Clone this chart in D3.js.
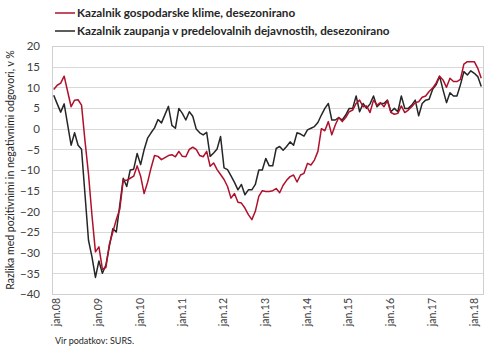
<!DOCTYPE html>
<html>
<head>
<meta charset="utf-8">
<script src="https://cdn.jsdelivr.net/npm/d3@7"></script>
<style>
  html, body { margin: 0; padding: 0; background: #fff; }
  svg { display: block; font-family: Lato, "Open Sans", sans-serif; }
</style>
</head>
<body>
<div class="container"></div>
<script>
// leta in meseci (jan.08 - apr.18)
const years = [2008, 2009, 2010, 2011, 2012, 2013, 2014, 2015, 2016, 2017, 2018];
const monthsInLastYear = 4;
const tickLabels = ["jan.08", "jan.09", "jan.10", "jan.11", "jan.12", "jan.13", "jan.14", "jan.15", "jan.16", "jan.17", "jan.18"];
const yTicks = [-40, -35, -30, -25, -20, -15, -10, -5, 0, 5, 10, 15, 20];

// Kazalnik gospodarske klime, desezonirano
const gospodarskaKlima = [
  9.5, 10.5, 11, 12.7, 9, 5.3, 6.9, 7, 5.7, -3, -11, -21,
  -29.8, -28.6, -34, -33.6, -28, -25, -22, -19.5, -12.5, -12.5, -12, -11.5,
  -9, -11.5, -15.7, -13, -9.5, -6.5, -6.7, -7.5, -7, -6.5, -6.3, -6.8,
  -5.5, -6.7, -6.8, -5, -4.5, -5, -6.5, -6.8, -5.5, -9.1, -8.3, -9.9,
  -11.1, -12.3, -14, -16.8, -15.7, -17.8, -18, -19.2, -20.8, -22, -20, -16.4,
  -15, -15.2, -15.2, -15, -14.5, -15.5, -13.7, -12.5, -11.6, -11.2, -12.9, -11.2,
  -10.8, -8.4, -8.8, -7.6, -5.5, 0, -0.5, 1.7, -1.5, 0.9, 2.7, 1.7,
  2.7, 4.1, 4.5, 6.1, 6.9, 5.3, 5.5, 3.9, 6.9, 5.7, 6.3, 5.3,
  6.8, 3.9, 3.5, 3.7, 5.5, 3.9, 4.5, 5.3, 6.3, 6.5, 7.6, 7.9,
  9, 9.8, 11, 12.7, 11.8, 10, 12.2, 11.4, 11.4, 11.9, 15.6, 16.2,
  16.2, 16.2, 14.6, 12.2
];

// Kazalnik zaupanja v predelovalnih dejavnostih, desezonirano
const zaupanjePredelovalne = [
  8.1, 6, 4, 6, 1, -4, -1, -4, -5, -16, -27, -31,
  -36, -32, -35, -33, -28.5, -24.2, -25, -18.5, -12, -14, -10, -9.8,
  -6, -8.7, -5.1, -2.3, -1, 0.2, 2.2, 1.4, 3.4, 5.4, 0.8, 0.1,
  4.9, 3.7, 2.1, 4.1, 3, -0.1, -1, -1.5, -0.9, -6.7, -5.9, -4.9,
  -1.9, -9.5, -9.9, -11.4, -13, -14.8, -13.5, -16, -14.8, -14.8, -13.5, -10,
  -10, -7.2, -9, -9, -4.8, -4.3, -5.2, -4.3, -3.2, -4, -1, -1.3,
  -1.8, -0.3, 0.1, 0.5, 1.5, 3.3, 4.9, 6.1, 2.1, 2.1, 2.7, 2.1,
  3.3, 4.9, 4.9, 7.9, 4.1, 6.1, 4.9, 6, 7.9, 5.3, 6.1, 6.1,
  6.9, 4.1, 4.9, 4.1, 7.9, 4.9, 4.9, 5.7, 6.9, 3.1, 6.1, 6.9,
  7.1, 9.5, 10.6, 12.7, 9.4, 6.3, 8.7, 7.9, 7.9, 10.6, 13.8, 13,
  14, 13.4, 12.6, 10.2
];

// kategorije (meseci)
const categories = [];
years.forEach((y, yi) => {
  const n = yi === years.length - 1 ? monthsInLastYear : 12;
  for (let m = 1; m <= n; m++) categories.push(y + "-" + m);
});

const W = 490, H = 354;
const plot = { left: 52, right: 483, top: 46, bottom: 294 };

const svg = d3.select(".container")
  .append("svg")
  .attr("width", W)
  .attr("height", H)
  .attr("viewBox", `0 0 ${W} ${H}`);

// skale
const x = d3.scaleBand()
  .domain(categories)
  .range([plot.left, plot.right]);

const y = d3.scaleLinear()
  .domain([-40, 20])
  .range([plot.bottom, plot.top]);

const cx = c => x(c) + x.bandwidth() / 2;

// mreža
svg.append("g")
  .selectAll("line")
  .data(yTicks)
  .join("line")
  .attr("x1", plot.left)
  .attr("x2", plot.right)
  .attr("y1", d => Math.round(y(d)) + 0.5)
  .attr("y2", d => Math.round(y(d)) + 0.5)
  .attr("stroke", "#d9d9d9")
  .attr("stroke-width", 1);

// okvir
svg.append("rect")
  .attr("x", plot.left + 0.5)
  .attr("y", Math.round(y(20)) + 0.5)
  .attr("width", plot.right - plot.left)
  .attr("height", Math.round(y(-40)) - Math.round(y(20)))
  .attr("fill", "none")
  .attr("stroke", "#d0d0d0");

// Y os
svg.append("g")
  .attr("transform", `translate(${plot.left},0)`)
  .call(d3.axisLeft(y).tickValues(yTicks).tickSize(0).tickPadding(12))
  .call(g => g.select(".domain").remove())
  .call(g => g.selectAll(".tick text")
    .style("font-family", "Lato, sans-serif")
    .style("font-size", "11.5px")
    .style("fill", "#404040"));

// X os - oznake samo za januar
const tickCats = tickLabels.map((t, i) => years[i] + "-1");
svg.append("g")
  .attr("transform", `translate(0,${plot.bottom})`)
  .call(d3.axisBottom(x).tickValues(tickCats).tickSize(0).tickFormat((d, i) => tickLabels[i]))
  .call(g => g.select(".domain").remove())
  .call(g => g.selectAll(".tick text")
    .attr("transform", "translate(3,0) rotate(-90)")
    .attr("text-anchor", "end")
    .attr("x", -4)
    .attr("y", 0)
    .attr("dy", "0.35em")
    .style("font-family", "Lato, sans-serif")
    .style("font-size", "10.5px")
    .style("fill", "#404040"));

// naslov Y osi
svg.append("text")
  .attr("transform", `translate(14,${(plot.top + plot.bottom) / 2}) rotate(-90)`)
  .attr("text-anchor", "middle")
  .style("font-size", "10.5px")
  .style("fill", "#262626")
  .text("Razlika med pozitivnimi in negativnimi odgovori, v %");

// črte
const line = d3.line()
  .x((d, i) => cx(categories[i]))
  .y(d => y(d));

const series = [
  { name: "Kazalnik gospodarske klime, desezonirano", values: gospodarskaKlima, color: "#b0102b" },
  { name: "Kazalnik zaupanja v predelovalnih dejavnostih, desezonirano", values: zaupanjePredelovalne, color: "#262626" }
];

// črna spodaj, rdeča zgoraj
[series[1], series[0]].forEach(s => {
  svg.append("path")
    .datum(s.values)
    .attr("d", line)
    .attr("fill", "none")
    .attr("stroke", s.color)
    .attr("stroke-width", 1.5)
    .attr("stroke-linejoin", "round");
});

// legenda
const legend = svg.append("g");
series.forEach((s, i) => {
  const ly = 13 + i * 18;
  legend.append("line")
    .attr("x1", 55).attr("x2", 75)
    .attr("y1", ly).attr("y2", ly)
    .attr("stroke", s.color)
    .attr("stroke-width", 1.5);
  legend.append("text")
    .attr("x", 77)
    .attr("y", ly)
    .attr("dy", "0.35em")
    .style("font-size", "11.7px")
    .style("font-weight", "bold")
    .style("fill", "#262626")
    .text(s.name);
});

// vir
svg.append("text")
  .attr("x", 55)
  .attr("y", 344)
  .style("font-size", "9px")
  .style("fill", "#262626")
  .text("Vir podatkov:  SURS.");
</script>
</body>
</html>
